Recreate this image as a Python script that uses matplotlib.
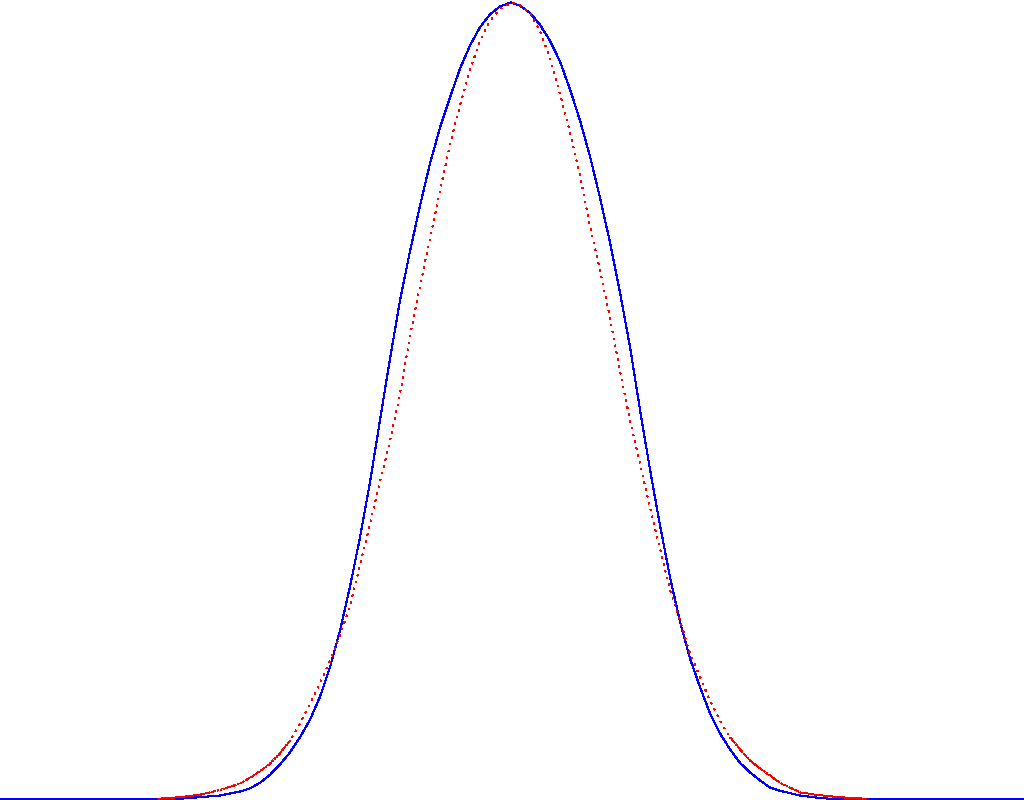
import matplotlib
matplotlib.use("Agg")
import matplotlib.pyplot as plt

# blue curve (solid), x in standard units, height relative to the peak
blue_x = [-5.10, -3.50, -3.30, -3.10, -2.90, -2.70, -2.60, -2.50, -2.40, -2.30,
          -2.20, -2.10, -2.00, -1.90, -1.80, -1.70, -1.60, -1.50, -1.40, -1.30,
          -1.20, -1.10, -1.00, -0.90, -0.80, -0.70, -0.60, -0.50, -0.40, -0.30,
          -0.20, -0.10, 0.01, 0.10, 0.20, 0.30, 0.40, 0.50, 0.60, 0.70,
          0.80, 0.90, 1.00, 1.10, 1.20, 1.30, 1.40, 1.50, 1.60, 1.70,
          1.80, 1.90, 2.00, 2.10, 2.20, 2.30, 2.40, 2.50, 2.60, 2.70,
          2.80, 2.90, 3.10, 3.30, 5.14]
blue_y = [0.000, 0.000, 0.001, 0.003, 0.005, 0.010, 0.014, 0.021, 0.031, 0.044,
          0.059, 0.078, 0.100, 0.129, 0.166, 0.212, 0.267, 0.329, 0.398, 0.476,
          0.553, 0.626, 0.688, 0.745, 0.798, 0.843, 0.881, 0.917, 0.946, 0.969,
          0.985, 0.995, 1.000, 0.996, 0.987, 0.972, 0.952, 0.926, 0.891, 0.852,
          0.807, 0.755, 0.699, 0.636, 0.568, 0.489, 0.414, 0.344, 0.279, 0.223,
          0.177, 0.141, 0.108, 0.083, 0.063, 0.046, 0.034, 0.024, 0.015, 0.011,
          0.008, 0.005, 0.002, 0.000, 0.000]

# red curve (dotted)
red_x = [-3.52, -3.40, -3.30, -3.10, -2.90, -2.70, -2.55, -2.40, -2.30, -2.20,
         -2.10, -2.00, -1.90, -1.80, -1.70, -1.60, -1.50, -1.40, -1.30, -1.20,
         -1.10, -1.00, -0.90, -0.80, -0.70, -0.60, -0.50, -0.40, -0.30, -0.20,
         -0.10, 0.02, 0.10, 0.20, 0.30, 0.40, 0.50, 0.60, 0.70, 0.80,
         0.90, 1.00, 1.10, 1.20, 1.30, 1.40, 1.50, 1.60, 1.70, 1.80,
         1.90, 2.00, 2.10, 2.20, 2.30, 2.40, 2.50, 2.60, 2.70, 2.80,
         2.90, 3.05, 3.20, 3.40, 3.56]
red_y = [0.001, 0.002, 0.003, 0.006, 0.012, 0.020, 0.031, 0.045, 0.058, 0.074,
         0.095, 0.120, 0.146, 0.174, 0.206, 0.243, 0.294, 0.346, 0.399, 0.450,
         0.509, 0.581, 0.644, 0.704, 0.764, 0.822, 0.871, 0.915, 0.952, 0.977,
         0.992, 1.000, 0.997, 0.987, 0.964, 0.930, 0.885, 0.837, 0.783, 0.720,
         0.664, 0.604, 0.537, 0.476, 0.422, 0.366, 0.315, 0.263, 0.225, 0.183,
         0.154, 0.124, 0.099, 0.078, 0.063, 0.049, 0.039, 0.030, 0.021, 0.015,
         0.009, 0.006, 0.004, 0.002, 0.001]

fig = plt.figure(figsize=(10.24, 8.0), dpi=100)
ax = fig.add_axes([0, 0, 1, 1])
ax.set_xlim(-5.10, 5.14)
ax.set_ylim(-0.0006, 1.0031)
ax.axis("off")

ax.plot(blue_x, blue_y, color="#0000ff", lw=0.8, antialiased=False,
        solid_joinstyle="round")

# steep middle: sparse dots; flat tails: dots almost touching
red, = ax.plot(red_x, red_y, color="#ff0000", lw=0.75, antialiased=False)
red.set_dashes([1, 5])
for sl in (slice(0, 10), slice(53, None)):
    tail, = ax.plot(red_x[sl], red_y[sl], color="#ff0000", lw=0.75,
                    antialiased=False)
    tail.set_dashes([1, 1.5])

fig.savefig("out.png", dpi=100, facecolor="white")
